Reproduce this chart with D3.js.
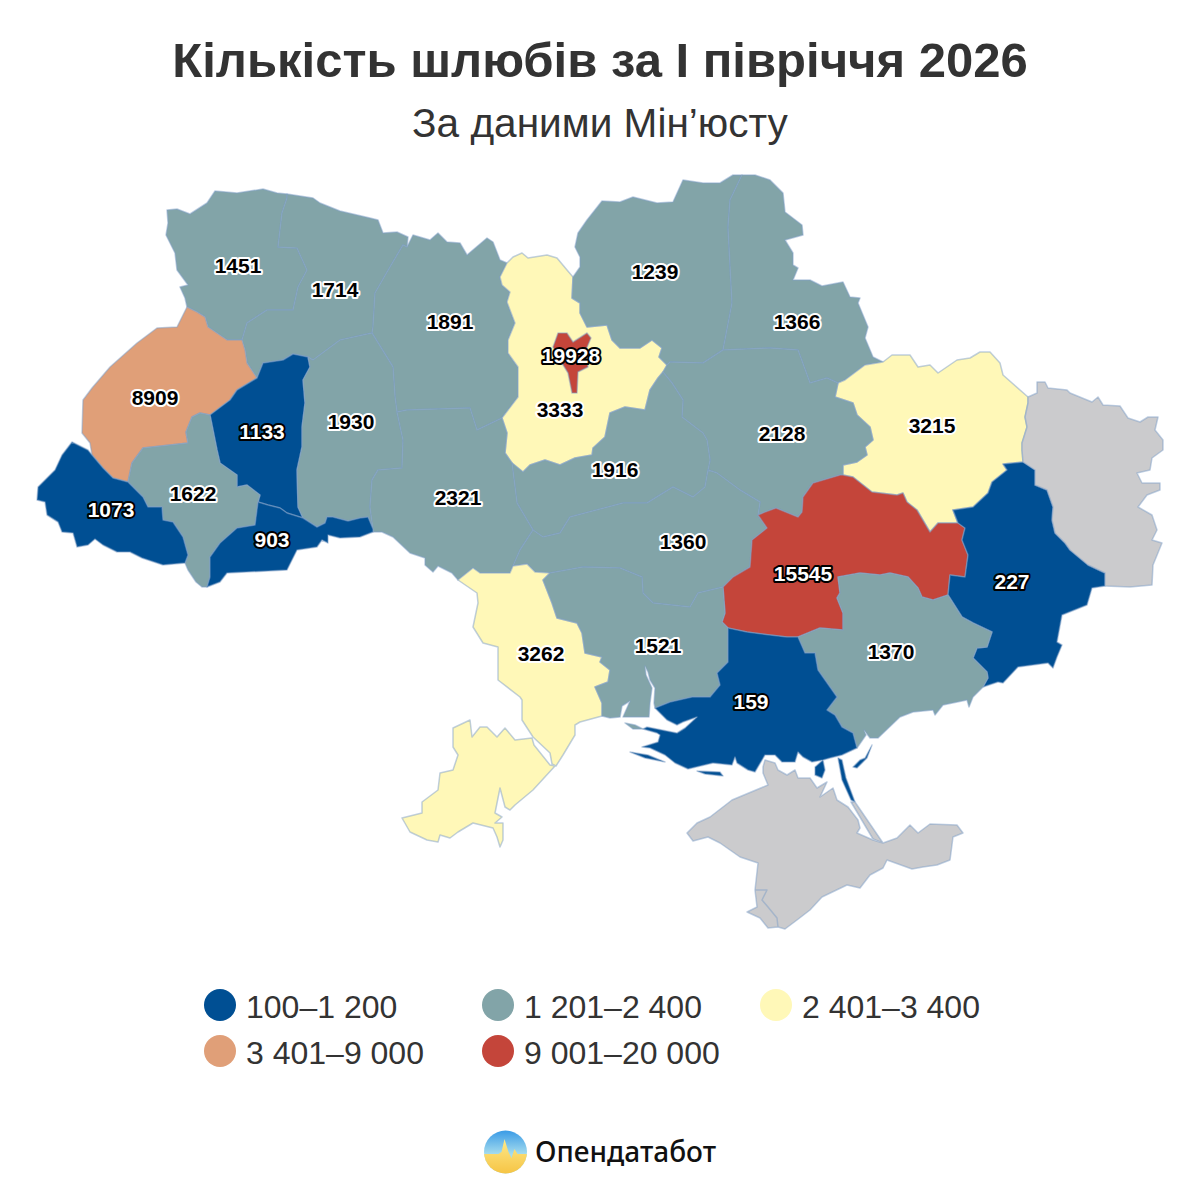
<!DOCTYPE html>
<html>
<head>
<meta charset="utf-8">
<script src="https://cdn.jsdelivr.net/npm/d3@7"></script>
<style>
  html, body { margin: 0; background: #fff; }
  svg { display: block; font-family: "Liberation Sans", Arial, sans-serif; }
</style>
</head>
<body>
<div id="chart"></div>
<script>
// values, null = no data (grey)
const regionNames = ["Волинська", "Рівненська", "Житомирська", "Київська", "Чернігівська", "Сумська",
  "Львівська", "Тернопільська", "Хмельницька", "Харківська", "Полтавська", "Черкаська",
  "Івано-Франківська", "Закарпатська", "Вінницька", "Чернівецька", "Кіровоградська", "Дніпропетровська",
  "Донецька", "Одеська", "Миколаївська", "Запорізька", "Херсонська", "Луганська", "Крим", "Київ"];
const regionValues = [1451, 1714, 1891, 3333, 1239, 1366,
  8909, 1133, 1930, 3215, 2128, 1916,
  1622, 1073, 2321, 903, 1360, 15545,
  227, 3262, 1521, 1370, 159, null, null, 19928];

const legendLabels = ["100–1 200", "1 201–2 400", "2 401–3 400", "3 401–9 000", "9 001–20 000"];
const legendColors = ["#004f93", "#82a4a8", "#fff8b8", "#e09f78", "#c4453a"];
const thresholds = [1201, 2401, 3401, 9001];
const noDataColor = "#cbcbcd";

// borders, in map units. Shared borders are kept once
// and the rings below refer to them by name, "-" means walk it backwards
const borders = {
  volynOuter: [[187,307],[185,298],[180,287],[188,285],[177,270],[175,253],[166,235],[168,223],[167,210],[177,209],[190,214],[207,203],[215,191],[237,193],[263,189],[277,193],[287,194]],
  volynRivne: [[287,194],[287,198],[282,213],[278,247],[297,248],[307,270],[298,287],[293,310],[267,310],[247,323],[242,340]],
  volynLviv: [[242,340],[237,340],[227,340],[208,327],[205,317],[197,312],[187,307]],
  rivneOuter: [[287,194],[313,198],[320,203],[340,211],[370,218],[378,220],[383,233],[397,232],[408,237],[407,247]],
  rivneZhyt: [[407,247],[403,245],[390,267],[375,293],[373,327],[372,333]],
  rivneKhm: [[372,333],[340,340],[313,360],[308,357]],
  rivneTern: [[308,357],[293,354],[283,360],[263,363],[257,378]],
  lvivRivne: [[242,340],[245,350],[247,363],[257,378]],
  lvivTern: [[257,378],[237,390],[230,400],[210,415]],
  lvivIf: [[210,415],[200,413],[192,417],[186,432],[188,443],[143,448],[132,463],[128,482]],
  lvivZak: [[128,482],[113,478],[103,468],[92,455]],
  lvivOuter: [[92,455],[90,443],[82,433],[83,400],[92,388],[110,367],[137,343],[157,328],[177,327],[187,307]],
  zakOuter: [[92,455],[88,450],[72,442],[62,455],[55,470],[38,487],[37,500],[45,502],[47,515],[58,522],[62,532],[73,533],[77,547],[88,545],[95,539],[103,545],[117,552],[130,552],[142,558],[163,565],[185,563]],
  ifZak: [[128,482],[143,497],[148,507],[162,507],[163,520],[173,522],[183,537],[188,555],[185,563]],
  ifOuter: [[185,563],[188,570],[196,582],[202,587],[207,587]],
  ifChern: [[207,587],[210,577],[210,557],[220,543],[237,528],[255,525],[258,502]],
  ifTern: [[258,502],[260,495],[247,485],[237,487],[237,475],[220,463],[217,450],[210,415]],
  ternKhm: [[308,357],[310,367],[303,380],[305,403],[302,427],[302,447],[297,470],[298,507],[303,518]],
  ternChern: [[303,518],[287,513],[280,508],[268,505],[258,502]],
  chernOuter: [[207,587],[220,582],[227,573],[287,570],[297,550],[317,547],[322,540],[328,543],[328,535],[340,538],[360,537],[373,532],[373,529]],
  chernKhm: [[373,529],[368,517],[360,518],[348,521],[333,517],[327,517],[325,523],[317,527],[303,518]],
  khmZhyt: [[372,333],[393,367],[395,397],[397,412]],
  khmVinn: [[397,412],[403,440],[402,468],[378,470],[372,480],[370,507],[373,529]],
  zhytOuter: [[407,247],[413,235],[430,240],[438,233],[447,242],[460,243],[467,255],[487,238],[493,242],[500,260],[507,263]],
  zhytKyiv: [[507,263],[500,277],[502,285],[510,292],[507,302],[515,323],[508,340],[508,353],[518,367],[518,397],[502,418]],
  zhytVinn: [[502,418],[477,430],[470,408],[407,410],[397,412]],
  kyivOuter: [[507,263],[513,257],[522,253],[528,258],[547,255],[557,258],[567,270],[573,277]],
  kyivChernihiv: [[573,277],[572,298],[580,303],[580,313],[587,327],[607,325],[612,340],[620,348],[640,348],[652,340],[662,348],[659,357],[667,365]],
  kyivPoltava: [[667,365],[663,372]],
  kyivCherkasy: [[663,372],[658,378],[650,390],[645,410],[625,407],[610,413],[605,437],[593,448],[592,455],[575,458],[560,465],[545,460],[530,465],[523,472],[512,463]],
  kyivVinn: [[512,463],[505,453],[507,433],[502,418]],
  chernihivOuter: [[573,277],[580,267],[580,257],[575,247],[578,233],[587,220],[602,201],[620,202],[633,197],[657,203],[673,202],[683,180],[703,183],[720,183],[733,175],[742,175]],
  chernihivSumy: [[742,175],[730,200],[728,227],[732,303],[723,350]],
  chernihivPoltava: [[723,350],[703,363],[670,362],[667,365]],
  sumyOuter: [[742,175],[755,175],[770,180],[783,193],[785,212],[802,225],[803,235],[785,240],[793,253],[793,265],[798,268],[793,280],[810,280],[822,286],[843,282],[850,297],[860,298],[858,303],[868,327],[865,338],[873,357],[883,362]],
  sumyKharkiv: [[883,362],[865,365],[845,380],[838,383]],
  sumyPoltava: [[838,383],[827,378],[810,383],[798,350],[770,348],[723,350]],
  kharkivOuter: [[883,362],[892,355],[910,355],[918,367],[930,365],[938,373],[957,360],[970,358],[980,352],[990,352],[1000,363],[1003,375],[1028,397]],
  kharkivLuhansk: [[1028,397],[1028,403],[1025,417],[1027,427],[1022,443],[1022,450],[1023,462]],
  kharkivDonetsk: [[1023,462],[1003,464],[1007,470],[992,482],[988,493],[973,507],[953,510]],
  kharkivDnipro: [[953,510],[958,523],[938,523],[930,532],[927,527],[917,510],[907,502],[903,493],[897,495],[872,492],[853,477],[843,475]],
  kharkivPoltava: [[843,475],[843,465],[857,462],[867,455],[865,447],[873,440],[870,427],[857,415],[853,403],[835,397],[838,383]],
  poltavaCherkasy: [[663,372],[672,383],[683,400],[682,417],[703,433],[707,440],[710,460],[708,470]],
  poltavaKirov: [[708,470],[717,473],[740,490],[760,502],[758,515]],
  poltavaDnipro: [[758,515],[765,512],[776,508],[798,517],[802,512],[803,497],[813,483],[840,475],[843,475]],
  cherkasyVinn: [[512,463],[517,503],[533,530]],
  cherkasyKirov: [[533,530],[543,537],[560,533],[570,517],[623,503],[647,503],[673,487],[693,497],[705,487],[708,470]],
  vinnKirov: [[533,530],[520,550],[513,566]],
  vinnOuter: [[373,529],[373,532],[382,532],[393,537],[410,553],[425,558],[425,565],[433,572],[438,566],[452,573],[458,580]],
  vinnOdesa: [[458,580],[473,568],[480,573],[510,573],[513,566]],
  kirovOdesa: [[513,566],[527,564],[535,572],[550,573]],
  kirovMyk: [[550,573],[583,567],[620,568],[642,577],[643,593],[653,603],[690,607],[698,593],[723,587]],
  odesaMyk: [[550,573],[543,580],[552,603],[557,618],[577,623],[582,633],[585,653],[602,657],[600,662],[610,670],[608,682],[595,687],[602,703],[602,716]],
  dniproTop: [[723,587],[733,577],[750,567],[752,540],[767,528],[758,515]],
  dniproMyk: [[723,587],[725,613],[722,622],[728,628]],
  dniproKherson: [[728,628],[747,632],[770,635],[787,637],[798,637]],
  dniproZap: [[798,637],[820,628],[843,630],[843,613],[837,598],[840,593],[838,577],[860,573],[880,575],[890,573],[908,577],[918,588],[922,597],[933,600],[948,595]],
  dniproDonetsk: [[948,595],[950,575],[965,577],[968,555],[962,540],[965,528],[958,523],[953,510]],
  donetskZap: [[948,595],[962,617],[973,623],[992,632],[987,647],[977,648],[973,658],[987,672],[988,678],[983,687]],
  donetskLuhansk: [[1023,462],[1035,470],[1035,485],[1047,490],[1053,507],[1052,520],[1055,533],[1065,543],[1070,550],[1088,565],[1105,573],[1105,586]],
  donetskCoast: [[1105,586],[1092,588],[1087,605],[1062,615],[1057,642],[1062,645],[1057,657],[1053,668],[1048,663],[1018,667],[1003,683],[998,682],[983,687]],
  zapCoast: [[983,687],[973,697],[969,707],[967,700],[943,705],[935,715],[933,710],[913,712],[900,717],[878,738],[870,738],[864,730],[866,735],[857,748]],
  zapKherson: [[798,637],[805,653],[815,653],[818,670],[837,697],[827,710],[835,715],[842,727],[853,733],[857,748]],
  khersonCoast: [[857,748],[842,755],[830,758],[823,760],[812,762],[803,757],[798,752],[795,762],[782,762],[775,755],[765,755],[755,772],[748,770],[737,763],[735,757],[732,765],[713,763],[688,769],[675,763],[665,755],[650,748],[642,747],[658,742],[660,735],[657,733],[643,729],[647,727],[677,733],[685,728],[697,717],[683,722],[677,725],[667,720],[655,708]],
  mykKherson: [[655,708],[670,702],[692,697],[710,697],[720,685],[717,673],[728,662],[728,628]],
  mykCoast: [[602,716],[610,718],[620,717],[622,706],[630,701],[623,717],[638,717],[649,717],[650,703],[652,688],[646,675],[645,666],[648,672],[650,680],[655,688],[654,703],[655,708]],
  odesaCoast: [[602,716],[580,722],[575,725],[575,735],[563,755],[556,766]],
  odesaWest: [[556,766],[552,764],[550,753],[533,737],[522,720],[522,700],[520,697],[498,680],[498,647],[483,643],[473,627],[478,603],[477,593],[458,580]],
  luhanskOuter: [[1028,397],[1037,393],[1037,382],[1045,382],[1048,388],[1067,390],[1070,393],[1092,402],[1098,397],[1103,405],[1120,406],[1128,418],[1140,422],[1148,417],[1158,417],[1155,430],[1163,440],[1163,450],[1152,458],[1150,470],[1137,473],[1142,483],[1160,483],[1160,490],[1147,495],[1138,507],[1152,515],[1157,530],[1152,540],[1162,543],[1153,565],[1152,585],[1130,587],[1105,586]]
};

// the closed ring of each region, same order as regionNames
const regionRings = [
  ["volynOuter", "volynRivne", "volynLviv"],
  ["rivneOuter", "rivneZhyt", "rivneKhm", "rivneTern", "-lvivRivne", "-volynRivne"],
  ["zhytOuter", "zhytKyiv", "zhytVinn", "-khmZhyt", "-rivneZhyt"],
  ["kyivOuter", "kyivChernihiv", "kyivPoltava", "kyivCherkasy", "kyivVinn", "-zhytKyiv"],
  ["chernihivOuter", "chernihivSumy", "chernihivPoltava", "-kyivChernihiv"],
  ["sumyOuter", "sumyKharkiv", "sumyPoltava", "-chernihivSumy"],
  ["lvivRivne", "lvivTern", "lvivIf", "lvivZak", "lvivOuter", "-volynLviv"],
  ["-rivneTern", "ternKhm", "ternChern", "ifTern", "-lvivTern"],
  ["-rivneKhm", "khmZhyt", "khmVinn", "chernKhm", "-ternKhm"],
  ["kharkivOuter", "kharkivLuhansk", "kharkivDonetsk", "kharkivDnipro", "kharkivPoltava", "-sumyKharkiv"],
  ["-chernihivPoltava", "-sumyPoltava", "-kharkivPoltava", "-poltavaDnipro", "-poltavaKirov", "-poltavaCherkasy", "-kyivPoltava"],
  ["-kyivCherkasy", "poltavaCherkasy", "-cherkasyKirov", "-cherkasyVinn"],
  ["-lvivIf", "-ifTern", "-ifChern", "-ifOuter", "-ifZak"],
  ["-lvivZak", "ifZak", "-zakOuter"],
  ["-zhytVinn", "-kyivVinn", "cherkasyVinn", "vinnKirov", "-vinnOdesa", "-vinnOuter", "-khmVinn"],
  ["ifChern", "-ternChern", "-chernKhm", "-chernOuter"],
  ["cherkasyKirov", "poltavaKirov", "-dniproTop", "-kirovMyk", "-kirovOdesa", "-vinnKirov"],
  ["poltavaDnipro", "-kharkivDnipro", "-dniproDonetsk", "-dniproZap", "-dniproKherson", "-dniproMyk", "dniproTop"],
  ["-kharkivDonetsk", "donetskLuhansk", "donetskCoast", "-donetskZap", "dniproDonetsk"],
  ["vinnOdesa", "kirovOdesa", "odesaMyk", "odesaCoast", "odesaWest"],
  ["kirovMyk", "dniproMyk", "-mykKherson", "-mykCoast", "-odesaMyk"],
  ["dniproZap", "donetskZap", "zapCoast", "-zapKherson"],
  ["mykKherson", "dniproKherson", "zapKherson", "khersonCoast"],
  ["luhanskOuter", "-donetskLuhansk", "-kharkivLuhansk"],
  [],
  []
];

// detached pieces: Budzhak, islands and spits, Crimea, the city of Kyiv
const extraPieces = {
  "Одеська": [[[453,728],[470,720],[472,737],[480,727],[487,727],[497,737],[505,728],[515,740],[532,738],[534,745],[550,765],[555,766],[533,790],[515,805],[510,810],[505,807],[500,788],[495,813],[502,817],[495,823],[503,823],[503,840],[500,847],[497,837],[493,828],[473,823],[458,832],[450,838],[440,835],[438,842],[427,840],[410,832],[402,818],[422,813],[422,802],[438,790],[440,773],[453,770],[458,755],[453,747]]],
  "Миколаївська": [[[625,723],[635,725],[643,729],[633,729]]],
  "Херсонська": [[[630,752],[648,755],[665,762],[645,758]], [[697,771],[720,772],[723,776],[705,774]], [[823,760],[815,767],[815,775],[822,778],[825,770]], [[838,758],[842,760],[846,778],[855,802],[851,800],[842,780]], [[853,767],[860,760],[865,758],[872,745],[867,758],[857,768]]],
  "Крим": [[[763,767],[765,760],[775,763],[778,770],[787,775],[795,770],[798,778],[810,778],[817,788],[827,782],[820,797],[833,788],[837,800],[848,807],[858,820],[860,828],[857,833],[873,840],[883,843],[897,838],[910,825],[918,833],[930,824],[957,825],[963,833],[953,837],[950,860],[937,865],[923,867],[912,869],[887,860],[883,868],[870,875],[860,888],[847,885],[822,897],[810,910],[797,920],[785,929],[778,927],[768,928],[760,918],[747,912],[757,907],[755,890],[758,863],[740,857],[720,843],[708,837],[693,841],[687,833],[697,823],[710,817],[732,800],[768,785],[763,773]],
    [[755,890],[767,890],[762,900],[768,907],[777,918],[778,927],[768,928],[760,918],[747,912],[757,907]],
    [[855,802],[883,843],[873,839],[851,802]]],
  "Київ": [[[558,333],[567,333],[573,342],[587,333],[591,338],[585,352],[588,367],[578,372],[577,393],[572,393],[568,373],[560,360],[553,347]]]
};

// where each value label sits, map units, same order as regionNames
const labelAnchors = [[238,266],[335,290],[450,322],[560,410],[655,272],[797,322],
  [155,398],[262,432],[351,422],[932,426],[782,434],[615,470],
  [193,494],[111,510],[458,498],[272,540],[683,542],[803,574],
  [1012,582],[541,654],[658,646],[891,652],[751,702],null,null,[571,356]];

// labels that are white with a black edge
const invertedLabels = [1133, 1073, 903, 15545, 227, 159, 19928];

function ringFrom(names) {
  const pts = [];
  names.forEach((n) => {
    const back = n[0] === "-";
    const arc = borders[back ? n.slice(1) : n];
    (back ? arc.slice().reverse() : arc).forEach((p) => pts.push(p));
  });
  if (pts.length) pts.push(pts[0]);
  return pts;
}

const width = 1200;
const height = 1200;

const color = d3.scaleThreshold().domain(thresholds).range(legendColors);

const features = regionNames.map((name, i) => {
  const main = ringFrom(regionRings[i]);
  const pieces = (extraPieces[name] || []).map((r) => [r.concat([r[0]])]);
  return {
    type: "Feature",
    properties: { name: name, value: regionValues[i], anchor: labelAnchors[i] },
    geometry: { type: "MultiPolygon", coordinates: (main.length ? [[main]] : []).concat(pieces) }
  };
});
const regions = { type: "FeatureCollection", features: features };

const projection = d3.geoIdentity().fitExtent([[37, 175], [1163, 929]], regions);
const path = d3.geoPath(projection);

const svg = d3.select("#chart").append("svg").attr("width", width).attr("height", height);

svg.append("text")
  .attr("x", 600).attr("y", 77)
  .attr("text-anchor", "middle")
  .attr("fill", "#333")
  .style("font-size", "49px")
  .style("font-weight", "bold")
  .text("Кількість шлюбів за І півріччя 2026");

svg.append("text")
  .attr("x", 600).attr("y", 137)
  .attr("text-anchor", "middle")
  .attr("fill", "#333")
  .style("font-size", "40.6px")
  .text("За даними Мін’юсту");

svg.append("g").selectAll("path")
  .data(regions.features)
  .enter()
  .append("path")
  .attr("d", path)
  .attr("fill", (d) => (d.properties.value === null ? noDataColor : color(d.properties.value)))
  .attr("stroke", "#7f9fc8")
  .attr("stroke-width", 1.5)
  .attr("stroke-opacity", 0.5)
  .attr("stroke-linejoin", "round")
  .append("title")
  .text((d) => d.properties.name);

svg.append("g").selectAll("text")
  .data(regions.features.filter((d) => d.properties.value !== null))
  .enter()
  .append("text")
  .attr("transform", (d) => `translate(${projection(d.properties.anchor)})`)
  .attr("text-anchor", "middle")
  .attr("dy", "0.35em")
  .style("font-size", "21px")
  .style("font-weight", "bold")
  .style("paint-order", "stroke")
  .attr("stroke-width", 4)
  .attr("stroke-linejoin", "round")
  .attr("fill", (d) => (invertedLabels.includes(d.properties.value) ? "#fff" : "#000"))
  .attr("stroke", (d) => (invertedLabels.includes(d.properties.value) ? "#000" : "#fff"))
  .text((d) => d.properties.value);

// legend, three to a row
const legendX = d3.scalePoint().domain([0, 1, 2]).range([220, 776]);
const legendY = d3.scalePoint().domain([0, 1]).range([1005, 1051]);

const legend = svg.append("g").selectAll("g")
  .data(legendLabels)
  .enter()
  .append("g")
  .attr("transform", (d, i) => `translate(${legendX(i % 3)},${legendY(Math.floor(i / 3))})`);

legend.append("circle")
  .attr("r", 16)
  .attr("fill", (d, i) => legendColors[i]);

legend.append("text")
  .attr("x", 26)
  .attr("y", 13)
  .attr("fill", "#333")
  .style("font-size", "32px")
  .text((d) => d);

// logo
const defs = svg.append("defs");
const sunGrad = defs.append("linearGradient").attr("id", "logoYellow").attr("x1", 0).attr("y1", 0).attr("x2", 0).attr("y2", 1);
sunGrad.append("stop").attr("offset", "0%").attr("stop-color", "#fde98a");
sunGrad.append("stop").attr("offset", "100%").attr("stop-color", "#f6c444");
const skyGrad = defs.append("linearGradient").attr("id", "logoBlue").attr("x1", 0).attr("y1", 0).attr("x2", 0).attr("y2", 1);
skyGrad.append("stop").attr("offset", "0%").attr("stop-color", "#3a9be6");
skyGrad.append("stop").attr("offset", "55%").attr("stop-color", "#a5dcee");
defs.append("clipPath").attr("id", "logoClip").append("circle").attr("r", 21.5);

const logo = svg.append("g").attr("transform", "translate(505.5,1152)");
logo.append("circle").attr("r", 21.5).attr("fill", "url(#logoBlue)");
logo.append("path")
  .attr("clip-path", "url(#logoClip)")
  .attr("d", "M-22,2 L-7,2 L-4,0 L-1,-13 L3,0 L6,6 L9,-3 L12,2 L22,2 L22,22 L-22,22 Z")
  .attr("fill", "url(#logoYellow)");

svg.append("text")
  .attr("x", 535).attr("y", 1162)
  .attr("fill", "#111")
  .style("font-family", "'Noto Sans', 'Open Sans', sans-serif")
  .style("font-size", "28px")
  .style("font-weight", 500)
  .text("Опендатабот");
</script>
</body>
</html>
